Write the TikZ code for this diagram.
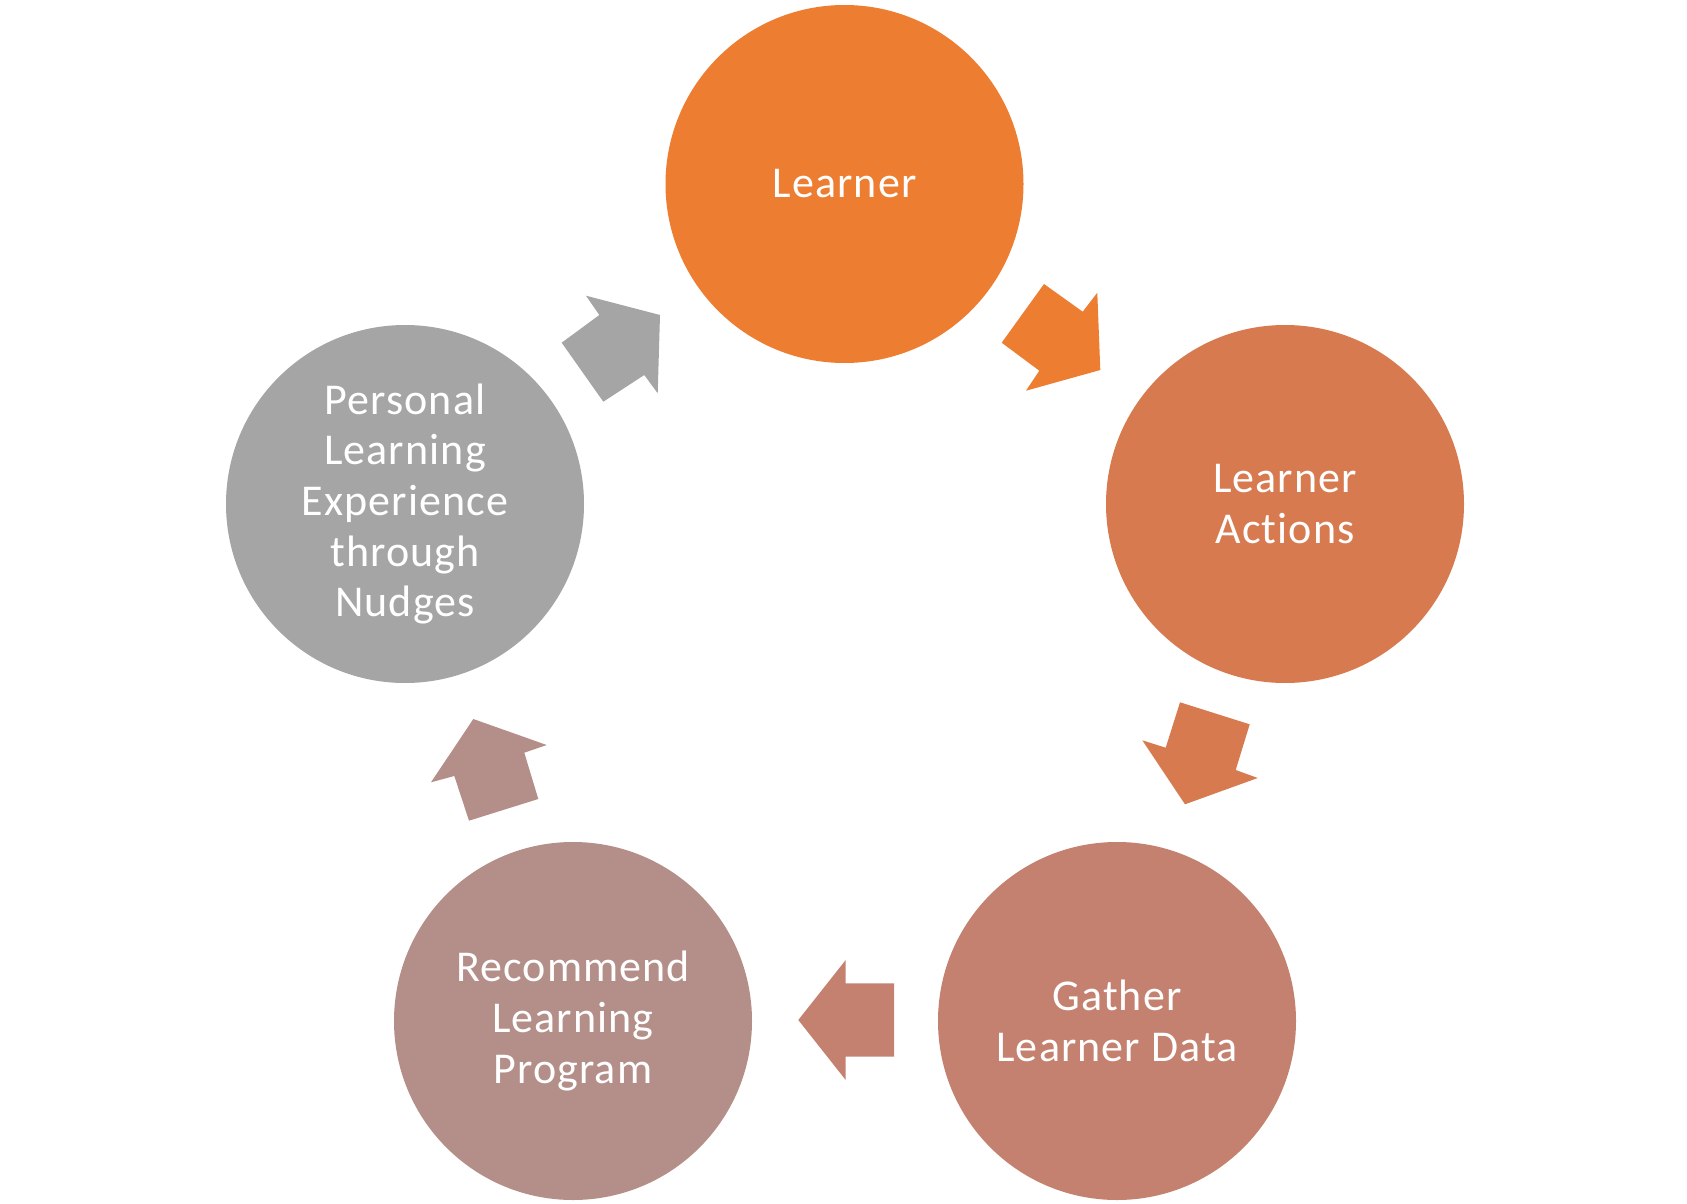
\documentclass[tikz,border=0pt]{standalone}
\usepackage{fontspec}
\setmainfont{Carlito}[Ligatures={NoCommon}, LetterSpace=2.5]
\definecolor{cLearner}{HTML}{ED7D31}
\definecolor{cActions}{HTML}{D87A50}
\definecolor{cGather}{HTML}{C48170}
\definecolor{cRecommend}{HTML}{B48F89}
\definecolor{cPersonal}{HTML}{A5A5A5}
\begin{document}
\begin{tikzpicture}[x=1pt,y=-1pt,
  stage/.style={circle, minimum size=358pt, inner sep=0pt, text=white, align=center,
    font=\fontsize{44}{50.6}\selectfont},
  blockarrow/.style={draw=none}]
\useasboundingbox (0,0) rectangle (1687,1204);
\node[stage, fill=cLearner] (learner) at (844.5,184) {Learner};
\node[stage, fill=cActions] (actions) at (1285,504) {Learner\\Actions};
\node[stage, fill=cGather] (gather) at (1117,1021) {Gather\\Learner Data};
\node[stage, fill=cRecommend] (recommend) at (573,1021) {Recommend\\Learning\\Program};
\node[stage, fill=cPersonal] (personal) at (405,504) {Personal\\Learning\\Experience\\through\\Nudges};
% block arrows
\fill[cLearner] (1044,284) -- (1082.7,311.7) -- (1097.3,292.7) -- (1100.3,370) -- (1026,390.7) -- (1039.3,370.7) -- (1001.7,342.7) -- cycle;
\fill[cActions] (1180,702.3) -- (1249.7,724.3) -- (1235.7,770) -- (1257.7,778) -- (1185,804.3) -- (1142.3,740.3) -- (1165.7,747.7) -- cycle;
\fill[cGather] (894,983.3) -- (894,1056.7) -- (845.7,1056.7) -- (845.7,1080) -- (798.3,1020) -- (845.7,960) -- (845.7,983.3) -- cycle;
\fill[cRecommend] (473.3,719) -- (546.7,745) -- (524.3,752.7) -- (538.3,799) -- (469,820.7) -- (454.3,776) -- (431,782.3) -- cycle;
\fill[cPersonal] (586,295.7) -- (660,315) -- (657.7,393.3) -- (644.3,375) -- (603.3,401.7) -- (561.7,342.7) -- (599.3,315) -- cycle;
\end{tikzpicture}
\end{document}
